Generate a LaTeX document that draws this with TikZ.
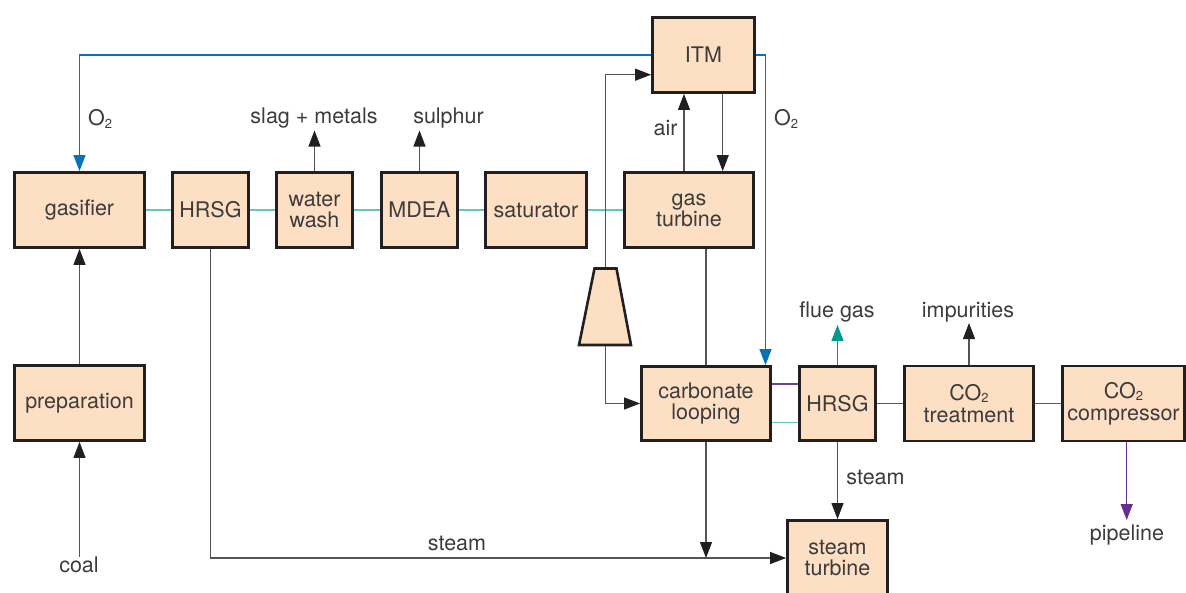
\documentclass[tikz,border=0pt]{standalone}
\usepackage{fontspec}
\setmainfont{TeX Gyre Heros}
\usetikzlibrary{arrows.meta}
\definecolor{boxfill}{RGB}{253,223,196}
\definecolor{boxline}{RGB}{35,31,32}
\definecolor{txt}{RGB}{62,59,60}
\definecolor{conn}{RGB}{85,83,84}
\definecolor{tealA}{RGB}{104,196,192}
\definecolor{tealB}{RGB}{0,153,143}
\definecolor{blueO}{RGB}{10,114,186}
\definecolor{purp}{RGB}{112,64,160}
\definecolor{purpD}{RGB}{104,45,145}
\newcommand{\subtwo}{\raisebox{-2.5pt}{\fontsize{13}{13}\selectfont 2}}
\tikzset{
  procbox/.style={draw=boxline, fill=boxfill, line width=2.8pt, minimum height=75pt,
    align=center, text=txt, inner sep=0pt, font=\fontsize{21.5}{21}\selectfont},
  lbl/.style={text=txt, inner sep=0pt, text height=15pt, text depth=4pt,
    font=\fontsize{21.5}{21}\selectfont},
  tip/.style={-{Triangle[length=16pt,width=12pt,color=boxline]}},
  ctip/.style={-{Triangle[length=16pt,width=12pt]}},
  cline/.style={draw=conn, line width=1.1pt},
  teal/.style={draw=tealA, line width=1.4pt},
  purpline/.style={draw=purp, line width=1.2pt},
  o2/.style={draw=blueO, line width=1.2pt, ctip, blueO},
}
\begin{document}
\begin{tikzpicture}[x=1pt,y=-1pt]
\useasboundingbox (0,0) rectangle (1186,592);
% boxes
\node[procbox, minimum width=130pt] (gas) at (79.5,210) {gasifier};
\node[procbox, minimum width=76pt] (hrsgA) at (210.5,210) {HRSG};
\node[procbox, minimum width=76pt] (ww) at (314.5,210) {water\\wash};
\node[procbox, minimum width=76pt] (mdea) at (419.5,210) {MDEA};
\node[procbox, minimum width=101pt] (sat) at (536,210) {saturator};
\node[procbox, minimum width=129pt] (gt) at (689,210) {gas\\turbine};
\node[procbox, minimum width=102pt] (itm) at (703.5,55) {ITM};
\node[procbox, minimum width=129pt, minimum height=74pt] (carb) at (706,403.5) {carbonate\\looping};
\node[procbox, minimum width=76pt, minimum height=74pt] (hrsgB) at (837.5,403.5) {HRSG};
\node[procbox, minimum width=129pt, minimum height=75pt] (co2t) at (969,403.5) {CO\subtwo\\[1pt]treatment};
\node[procbox, minimum width=122pt, minimum height=75pt] (co2c) at (1123.5,403.5) {CO\subtwo\\[1pt]compressor};
\node[procbox, minimum width=130pt] (prep) at (79.5,403) {preparation};
\node[procbox, minimum width=100pt] (st) at (837.5,558) {steam\\turbine};
% compressor
\draw[boxline, fill=boxfill, line width=2.6pt, line join=miter] (594.5,268.5) -- (616.5,268.5) -- (631,345) -- (579,345) -- cycle;
\coordinate (cTop) at (605.5,267.3);
\coordinate (cBot) at (605.5,346.3);
% labels
\node[lbl, anchor=west] (o2a) at (88,120) {O\subtwo};
\node[lbl, anchor=west] (o2b) at (774,120) {O\subtwo};
\node[lbl] (slag) at (314,118) {slag + metals};
\node[lbl] (sulph) at (448.5,118) {sulphur};
\node[lbl] (air) at (665.5,130) {air};
\node[lbl] (flue) at (837,311.5) {flue gas};
\node[lbl] (imp) at (968,311.5) {impurities};
\node[lbl] (steamR) at (875.5,478.5) {steam};
\node[lbl] (pipe) at (1127,535) {pipeline};
\node[lbl] (steamB) at (457,545) {steam};
\node[lbl] (coal) at (79,567) {coal};
% free ends
\coordinate (slagEnd) at (314.5,130.5);
\coordinate (sulEnd) at (419.5,130.5);
\coordinate (flueEnd) at (837.5,325);
\coordinate (impEnd) at (969,323);
\coordinate (pipeEnd) at (1126.7,520);
\coordinate (coalStart) at (79.5,556.7);
% teal gas train
\draw[teal] (gas.east) -- (hrsgA.west);
\draw[teal] (hrsgA.east) -- (ww.west);
\draw[teal] (ww.east) -- (mdea.west);
\draw[teal] (mdea.east) -- (sat.west);
\draw[teal] (sat.east) -- (gt.west);
% O2 lines
\draw[o2] (itm.west) -| (gas.north);
\draw[o2] (itm.east) -| ([xshift=59.5pt]carb.north);
% black connectors
\draw[cline, tip] (ww.north) -- (slagEnd);
\draw[cline, tip] (mdea.north) -- (sulEnd);
\draw[cline, tip] (cTop) |- (itm.west |- 0,74.7);
\draw[cline, tip] (gt.north -| 684,0) -- (itm.south -| 684,0);
\draw[cline, tip] (itm.south -| 722.7,0) -- (gt.north -| 722.7,0);
\draw[cline] (gt.south -| carb.north) -- (carb.north);
\draw[cline, tip] (cBot) |- (carb.west);
\draw[cline, tip] (hrsgA.south) |- (st.west);
\draw[cline, tip] (carb.south) -- (carb.south |- st.west);
\draw[cline, tip] (hrsgB.south) -- (st.north);
\draw[cline, tip] (co2t.north) -- (impEnd);
\draw[cline, tip] (prep.north) -- (gas.south);
\draw[cline, tip] (coalStart) -- (prep.south);
% flue gas
\draw[draw=tealB, line width=1.2pt, ctip, tealB] (hrsgB.north) -- (flueEnd);
% carb to hrsg
\draw[purpline] (carb.east |- 0,384) -- (hrsgB.west |- 0,384);
\draw[teal, line width=1.2pt] (carb.east |- 0,422.7) -- (hrsgB.west |- 0,422.7);
\draw[purpline] (hrsgB.east) -- (co2t.west);
\draw[purpline] (co2t.east) -- (co2c.west);
\draw[draw=purpD, line width=1.2pt, ctip, purpD] (co2c.south -| pipeEnd) -- (pipeEnd);
\end{tikzpicture}
\end{document}
